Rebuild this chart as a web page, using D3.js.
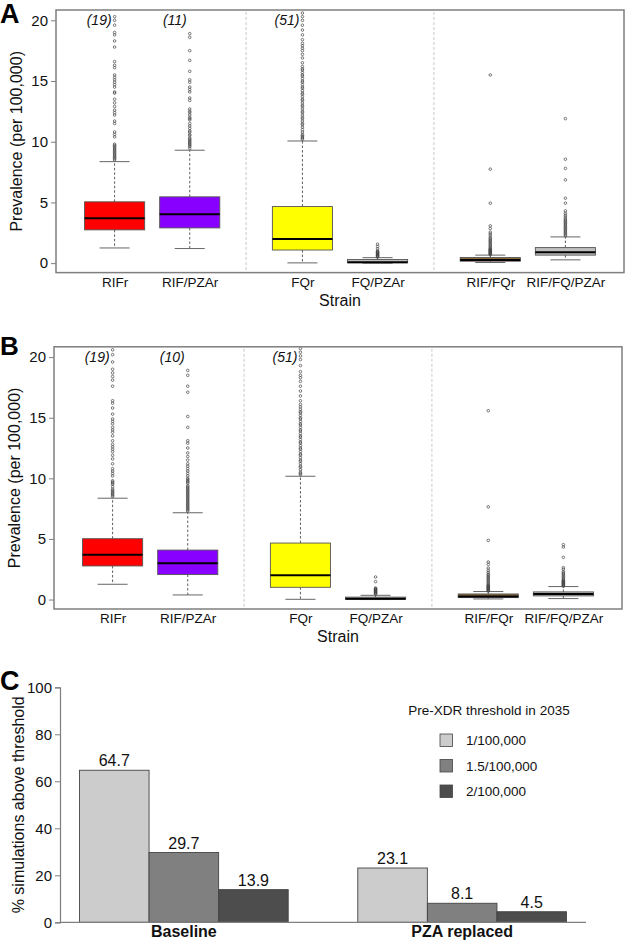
<!DOCTYPE html>
<html>
<head>
<meta charset="utf-8">
<script src="https://cdn.jsdelivr.net/npm/d3@7"></script>
<style>
  html, body { margin: 0; padding: 0; background: #fff; }
  svg { display: block; font-family: "Liberation Sans", Arial, sans-serif; }
</style>
</head>
<body>
<svg id="chart" width="625" height="941"></svg>
<script>
// ---------------- DATA ----------------
const strains = ["RIFr", "RIF/PZAr", "FQr", "FQ/PZAr", "RIF/FQr", "RIF/FQ/PZAr"];
const strainPos = [1, 2, 3.5, 4.5, 6, 7];
const groupSeparators = [2.75, 5.25];
const boxFills = ["#FF0000", "#8800FF", "#FFFF00", "#BEBEBE", "#8B6A3E", "#BEBEBE"];
const yTicksBox = [0, 5, 10, 15, 20];

// Panel A box statistics
const aLow = [1.25, 1.2, 0.02, 0.0, 0.05, 0.27];
const aQ1 = [2.74, 2.9, 1.08, 0.03, 0.16, 0.66];
const aMed = [3.7, 4.03, 1.98, 0.07, 0.25, 0.9];
const aQ3 = [5.05, 5.46, 4.66, 0.3, 0.46, 1.28];
const aHigh = [8.36, 9.3, 10.06, 0.45, 0.66, 2.16];
const aOutRIFr = [8.5,8.6,8.7,8.8,8.9,9.0,9.1,9.2,9.3,9.4,9.5,9.6,9.7,9.8,10.4,10.6,10.8,11.5,11.7,12.2,12.4,12.6,12.9,13.2,13.5,14.0,14.1,14.5,14.7,14.9,15.1,15.3,15.5,16.1,16.3,16.6,17.8,18.3,18.8,19.0,19.6,20.0,20.3];
const aOutRIFPZA = [9.45,9.6,9.7,9.8,9.9,10.0,10.1,10.2,10.3,10.5,10.6,10.8,10.9,11.1,11.3,11.5,11.8,11.9,12.0,12.2,12.4,12.5,12.7,13.4,13.6,14.1,14.3,14.5,14.9,15.1,15.8,16.7,17.5,18.6,18.9];
const aOutFQ = [10.2,10.3,10.4,10.5,10.6,10.8,11.0,11.2,11.4,11.5,11.7,11.9,12.0,12.2,12.4,12.5,12.7,12.9,13.0,13.2,13.4,13.5,13.7,13.9,14.0,14.2,14.4,14.5,14.7,14.9,15.0,15.2,15.4,15.5,15.7,15.9,16.0,16.2,16.5,16.9,17.2,17.5,17.7,17.9,18.1,18.4,18.8,19.2,19.6,20.0,20.3,20.6];
const aOutFQPZA = [0.5,0.55,0.6,0.65,0.7,0.75,0.8,0.85,0.9,0.95,1.0,1.18,1.37,1.56];
const aOutRIFFQ = [0.7,0.75,0.8,0.85,0.9,0.95,1.0,1.05,1.1,1.15,1.2,1.3,1.4,1.5,1.6,1.7,1.8,1.9,2.0,2.1,2.25,2.4,2.55,2.85,3.07,4.94,7.74,15.5];
const aOutRIFFQPZA = [2.25,2.35,2.45,2.55,2.65,2.75,2.85,2.95,3.05,3.15,3.25,3.35,3.45,3.55,3.65,3.8,3.95,4.1,4.3,4.94,5.35,6.86,7.8,8.56,11.9];
const aAboveLabels = ["(19)", "(11)", "(51)"];

// Panel B box statistics
const bLow = [1.26, 0.38, 0.02, 0.0, 0.05, 0.08];
const bQ1 = [2.77, 2.06, 1.01, 0.02, 0.16, 0.3];
const bMed = [3.7, 2.99, 2.0, 0.06, 0.25, 0.45];
const bQ3 = [5.02, 4.08, 4.66, 0.2, 0.46, 0.63];
const bHigh = [8.36, 7.16, 10.17, 0.35, 0.66, 1.07];
const bOutRIFr = [8.5,8.6,8.7,8.8,8.9,9.0,9.1,9.3,9.5,9.6,9.7,9.8,10.2,10.4,10.6,10.8,11.2,11.6,11.9,12.2,12.4,12.6,12.8,13.1,13.5,13.8,14.0,14.2,14.5,14.7,14.9,15.3,15.8,16.2,16.4,17.6,18.1,18.4,18.7,19.0,19.6,20.2,20.6];
const bOutRIFPZA = [7.3,7.4,7.5,7.6,7.7,7.8,7.9,8.0,8.1,8.2,8.3,8.4,8.5,8.6,8.7,8.8,8.9,9.0,9.1,9.2,9.3,9.4,9.6,9.7,9.8,9.9,10.0,10.2,10.4,10.6,10.8,11.0,11.2,11.5,11.8,12.1,12.5,12.9,13.1,14.2,15.1,17.1,17.6,18.5,18.9];
const bOutFQ = [10.3,10.4,10.5,10.7,10.9,11.0,11.2,11.4,11.5,11.7,11.9,12.0,12.2,12.4,12.5,12.7,12.9,13.0,13.2,13.4,13.5,13.7,13.9,14.0,14.2,14.4,14.5,14.7,14.9,15.0,15.2,15.4,15.5,15.7,15.9,16.1,16.4,16.8,17.2,17.6,18.0,18.3,18.5,18.8,19.3,19.8,20.1,20.4,20.7];
const bOutFQPZA = [0.45,0.5,0.55,0.6,0.65,0.7,0.75,0.8,0.85,0.9,0.95,1.48,1.86];
const bOutRIFFQ = [0.7,0.75,0.8,0.85,0.9,0.95,1.0,1.05,1.1,1.15,1.2,1.3,1.4,1.5,1.6,1.7,1.8,1.9,2.0,2.1,2.25,2.4,2.6,2.9,3.1,4.88,7.65,15.58];
const bOutRIFFQPZA = [1.1,1.15,1.2,1.25,1.3,1.35,1.4,1.45,1.5,1.55,1.6,1.7,1.8,1.9,2.0,2.1,2.2,2.3,2.5,2.63,3.48,4.33,4.53];
const bAboveLabels = ["(19)", "(10)", "(51)"];

// Panel C
const scenarios = ["Baseline", "PZA replaced"];
const thresholds = ["1/100,000", "1.5/100,000", "2/100,000"];
const baselineValues = [64.7, 29.7, 13.9];
const pzaReplacedValues = [23.1, 8.1, 4.5];
const thresholdColors = ["#CCCCCC", "#808080", "#4D4D4D"];
const yTicksC = [0, 20, 40, 60, 80, 100];

// ---------------- DRAW ----------------
const svg = d3.select("#chart");
const frameColor = "#7F7F7F";

function drawBoxPanel(cfg) {
  const g = svg.append("g");
  const x = d3.scaleLinear().domain([0.22, 7.78]).range([cfg.left, cfg.right]);
  const y = d3.scaleLinear().domain([-0.78, 20.85]).range([cfg.bottom, cfg.top]);
  const halfW = (x(1.4) - x(1));
  const capHalf = halfW / 2;

  // separators
  g.selectAll(".sep").data(groupSeparators).enter().append("line")
    .attr("x1", d => x(d)).attr("x2", d => x(d))
    .attr("y1", cfg.top + 2).attr("y2", cfg.bottom)
    .attr("stroke", "#BBBBBB").attr("stroke-width", 0.8).attr("stroke-dasharray", "3,2");

  const stats = strains.map((s, i) => ({
    s, pos: strainPos[i], lo: cfg.low[i], q1: cfg.q1[i], med: cfg.med[i],
    q3: cfg.q3[i], hi: cfg.high[i], out: cfg.out[i], fill: boxFills[i]
  }));

  const sg = g.selectAll(".strain").data(stats).enter().append("g");
  // whiskers
  sg.append("line").attr("x1", d => x(d.pos)).attr("x2", d => x(d.pos))
    .attr("y1", d => y(d.q3)).attr("y2", d => y(d.hi))
    .attr("stroke", "#333").attr("stroke-width", 0.8).attr("stroke-dasharray", "2.5,2");
  sg.append("line").attr("x1", d => x(d.pos)).attr("x2", d => x(d.pos))
    .attr("y1", d => y(d.q1)).attr("y2", d => y(d.lo))
    .attr("stroke", "#333").attr("stroke-width", 0.8).attr("stroke-dasharray", "2.5,2");
  // caps
  ["hi", "lo"].forEach(k => {
    sg.append("line").attr("x1", d => x(d.pos) - capHalf).attr("x2", d => x(d.pos) + capHalf)
      .attr("y1", d => y(d[k])).attr("y2", d => y(d[k]))
      .attr("stroke", "#666").attr("stroke-width", 1);
  });
  // boxes
  sg.append("rect").attr("x", d => x(d.pos) - halfW).attr("width", 2 * halfW)
    .attr("y", d => y(d.q3)).attr("height", d => Math.max(1, y(d.q1) - y(d.q3)))
    .attr("fill", d => d.fill).attr("stroke", "#555").attr("stroke-width", 0.9);
  // medians
  sg.append("line").attr("x1", d => x(d.pos) - halfW).attr("x2", d => x(d.pos) + halfW)
    .attr("y1", d => y(d.med)).attr("y2", d => y(d.med))
    .attr("stroke", "#000").attr("stroke-width", 2);
  // outliers
  sg.each(function(d) {
    d3.select(this).selectAll("circle").data(d.out).enter().append("circle")
      .attr("cx", x(d.pos)).attr("cy", v => y(v)).attr("r", 1.3)
      .attr("fill", "none").attr("stroke", "#444").attr("stroke-width", 0.7);
  });

  // counts above range
  g.selectAll(".above").data(cfg.above).enter().append("text")
    .attr("x", (d, i) => x(strainPos[i]) - 3).attr("y", y(20) + 5)
    .attr("text-anchor", "end").attr("font-size", 14).attr("font-style", "italic")
    .attr("fill", "#111").text(d => d);

  // frame
  g.append("rect").attr("x", cfg.left).attr("y", cfg.top)
    .attr("width", cfg.right - cfg.left).attr("height", cfg.bottom - cfg.top)
    .attr("fill", "none").attr("stroke", frameColor).attr("stroke-width", 1.5);

  // y axis
  const yAxis = d3.axisLeft(y).tickValues(yTicksBox).tickSize(5).tickPadding(3);
  const ya = g.append("g").attr("transform", `translate(${cfg.left},0)`).call(yAxis);
  ya.select(".domain").remove();
  ya.selectAll(".tick line").attr("stroke", frameColor);
  ya.selectAll(".tick text").attr("font-size", 15).attr("fill", "#111")
    .attr("font-family", "Liberation Sans, Arial, sans-serif");

  // x labels
  const xAxis = d3.axisBottom(x).tickValues(strainPos).tickSize(0).tickPadding(4.5)
    .tickFormat((d, i) => strains[i]);
  const xa = g.append("g").attr("transform", `translate(0,${cfg.bottom})`).call(xAxis);
  xa.select(".domain").remove();
  xa.selectAll(".tick text").attr("font-size", 13.5).attr("fill", "#111")
    .attr("font-family", "Liberation Sans, Arial, sans-serif");

  g.append("text").attr("x", (cfg.left + cfg.right) / 2).attr("y", cfg.bottom + 33)
    .attr("text-anchor", "middle").attr("font-size", 16).attr("fill", "#111").text("Strain");

  g.append("text").attr("transform", `translate(${cfg.left - 34},${(y(20.85) + y(-0.78)) / 2}) rotate(-90)`)
    .attr("text-anchor", "middle").attr("font-size", 16).attr("fill", "#111")
    .text("Prevalence (per 100,000)");

  g.append("text").attr("x", 0).attr("y", cfg.letterY).attr("font-size", cfg.letterSize)
    .attr("font-weight", "bold").attr("fill", "#000").text(cfg.letter);
}

drawBoxPanel({
  left: 56, right: 624, top: 10, bottom: 272.6,
  low: aLow, q1: aQ1, med: aMed, q3: aQ3, high: aHigh,
  out: [aOutRIFr, aOutRIFPZA, aOutFQ, aOutFQPZA, aOutRIFFQ, aOutRIFFQPZA],
  above: aAboveLabels, letter: "A", letterY: 23, letterSize: 27
});
drawBoxPanel({
  left: 54, right: 622, top: 346.8, bottom: 609,
  low: bLow, q1: bQ1, med: bMed, q3: bQ3, high: bHigh,
  out: [bOutRIFr, bOutRIFPZA, bOutFQ, bOutFQPZA, bOutRIFFQ, bOutRIFFQPZA],
  above: bAboveLabels, letter: "B", letterY: 355, letterSize: 26
});

// ---------------- Panel C ----------------
(function() {
  const g = svg.append("g");
  const left = 60, right = 586, top = 687.3, bottom = 922.3;
  const x = d3.scaleLinear().domain([0.72, 8.28]).range([left, right]);
  const y = d3.scaleLinear().domain([0, 100]).range([bottom, top]);
  const series = [baselineValues, pzaReplacedValues];
  const groupStart = [1, 5];

  const bars = [];
  series.forEach((vals, gi) => vals.forEach((v, ti) => bars.push({ gi, ti, v, x0: groupStart[gi] + ti })));

  g.selectAll("rect.bar").data(bars).enter().append("rect")
    .attr("x", d => x(d.x0)).attr("width", d => x(d.x0 + 1) - x(d.x0))
    .attr("y", d => y(d.v)).attr("height", d => y(0) - y(d.v))
    .attr("fill", d => thresholdColors[d.ti]).attr("stroke", "#444").attr("stroke-width", 0.9);

  g.selectAll("text.val").data(bars).enter().append("text")
    .attr("x", d => x(d.x0 + 0.5)).attr("y", d => y(d.v) - 4)
    .attr("text-anchor", "middle").attr("font-size", 16).attr("fill", "#111")
    .text(d => d.v.toFixed(1));

  // axes
  g.append("line").attr("x1", left).attr("x2", right).attr("y1", y(0)).attr("y2", y(0))
    .attr("stroke", frameColor).attr("stroke-width", 1.2);
  const yAxis = d3.axisLeft(y).tickValues(yTicksC).tickSize(5).tickPadding(3);
  const ya = g.append("g").attr("transform", `translate(${left},0)`).call(yAxis);
  ya.select(".domain").attr("stroke", frameColor).attr("stroke-width", 1.2);
  ya.selectAll(".tick line").attr("stroke", frameColor);
  ya.selectAll(".tick text").attr("font-size", 15).attr("fill", "#111")
    .attr("font-family", "Liberation Sans, Arial, sans-serif");

  g.selectAll("text.grp").data(scenarios).enter().append("text")
    .attr("x", (d, i) => x(groupStart[i] + 1.5)).attr("y", bottom + 15)
    .attr("text-anchor", "middle").attr("font-size", 16).attr("font-weight", "bold")
    .attr("fill", "#111").text(d => d);

  g.append("text").attr("transform", `translate(${left - 36},${(top + bottom) / 2}) rotate(-90)`)
    .attr("text-anchor", "middle").attr("font-size", 16).attr("fill", "#111")
    .text("% simulations above threshold");

  g.append("text").attr("x", 0).attr("y", 690).attr("font-size", 27)
    .attr("font-weight", "bold").attr("fill", "#000").text("C");

  // legend
  const lg = g.append("g");
  lg.append("text").attr("x", 489).attr("y", 715).attr("text-anchor", "middle")
    .attr("font-size", 13.5).attr("fill", "#111").text("Pre-XDR threshold in 2035");
  const items = lg.selectAll("g.item").data(thresholds).enter().append("g")
    .attr("transform", (d, i) => `translate(440,${734 + i * 25.5})`);
  items.append("rect").attr("width", 12.5).attr("height", 12.5)
    .attr("fill", (d, i) => thresholdColors[i]).attr("stroke", "#444").attr("stroke-width", 0.8);
  items.append("text").attr("x", 26).attr("y", 11).attr("font-size", 13.5).attr("fill", "#111").text(d => d);
})();
</script>
</body>
</html>
